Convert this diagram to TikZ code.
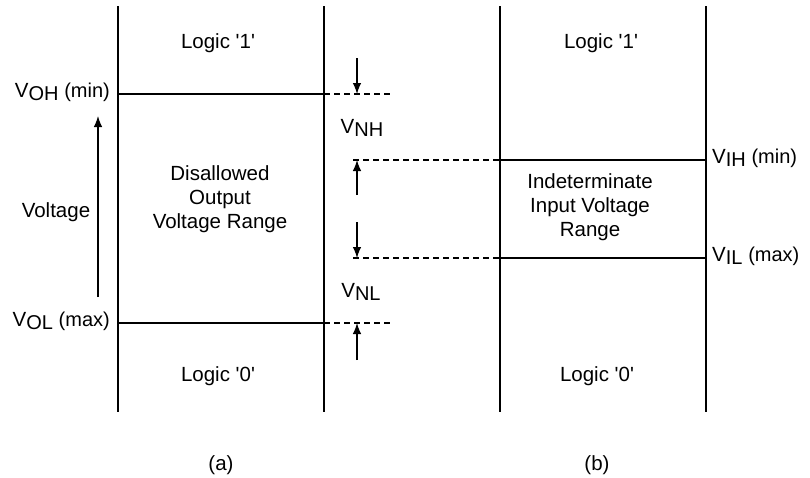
\documentclass[tikz,border=0pt]{standalone}
\usepackage{fontspec}
\setmainfont{Liberation Sans}
\usetikzlibrary{arrows.meta}

\newcommand{\subsz}{\fontsize{20}{20}\selectfont}
\newcommand{\vname}[1]{V\raisebox{-0.3ex}{\subsz #1}}
\newcommand{\vlevel}[2]{\vname{#1} {\fontsize{20}{20}\selectfont(#2)}}
\newcommand{\logic}[1]{Logic \textquotesingle#1\textquotesingle}

\tikzset{
  rail/.style={line width=1.6pt},
  level/.style={line width=1.2pt},
  margin/.style={line width=1.2pt,dash pattern=on 6pt off 4pt},
  noise/.style={line width=1.2pt,-{Latex[length=11pt,width=8.5pt]}},
  lbl/.style={font=\fontsize{20.5}{24}\selectfont,align=center,inner sep=0pt},
}

\begin{document}
\begin{tikzpicture}[x=1pt,y=-1pt]
\useasboundingbox (0,0) rectangle (810,477);
% rails of (a) and (b)
\foreach \r/\x in {aL/118,aR/324,bL/500,bR/706}{
  \coordinate (\r top) at (\x,6);
  \coordinate (\r bot) at (\x,412);
  \draw[rail] (\r top) -- (\r bot);
}
% output levels
\coordinate (ohL) at (118,94);  \coordinate (ohR) at (324,94);  \coordinate (ohE) at (393,94);
\coordinate (olL) at (118,323); \coordinate (olR) at (324,323); \coordinate (olE) at (393,323);
\draw[level] (ohL) -- (ohR);
\draw[level] (olL) -- (olR);
\draw[margin] (ohR) -- (ohE);
\draw[margin] (olR) -- (olE);
% input levels
\coordinate (ihS) at (353,160); \coordinate (ihL) at (500,160); \coordinate (ihR) at (706,160);
\coordinate (ilS) at (353,258); \coordinate (ilL) at (500,258); \coordinate (ilR) at (706,258);
\draw[level] (ihL) -- (ihR);
\draw[level] (ilL) -- (ilR);
\draw[margin] (ihS) -- (ihL);
\draw[margin] (ilS) -- (ilL);
% noise margins
\coordinate (nh1) at (357,58);  \coordinate (nh2) at (357,94);
\coordinate (nh3) at (357,195); \coordinate (nh4) at (357,160);
\coordinate (nl1) at (357,222); \coordinate (nl2) at (357,258);
\coordinate (nl3) at (357,360); \coordinate (nl4) at (357,323);
\draw[noise] (nh1) -- (nh2);
\draw[noise] (nh3) -- (nh4);
\draw[noise] (nl1) -- (nl2);
\draw[noise] (nl3) -- (nl4);
\node[lbl] (vnh) at (362,128) {\vname{NH}};
\node[lbl] (vnl) at (361,292) {\vname{NL}};
% voltage axis
\coordinate (vlo) at (98,297);
\coordinate (vhi) at (98,116);
\draw[noise] (vlo) -- (vhi);
\node[lbl] (volt) at (56,212) {Voltage};
% level labels
\node[lbl,anchor=east] (voh) at (110,92) {\vlevel{OH}{min}};
\node[lbl,anchor=east] (vol) at (110,321) {\vlevel{OL}{max}};
\node[lbl,anchor=west] (vih) at (712,158) {\vlevel{IH}{min}};
\node[lbl,anchor=west] (vil) at (712,256) {\vlevel{IL}{max}};
% regions
\node[lbl] (one a) at (218,43) {\logic{1}};
\node[lbl] (one b) at (601,43) {\logic{1}};
\node[lbl] (bad) at (220,199) {Disallowed\\Output\\Voltage Range};
\node[lbl] (ind) at (590,207) {Indeterminate\\Input Voltage\\Range};
\node[lbl] (zero a) at (218,376) {\logic{0}};
\node[lbl] (zero b) at (597,376) {\logic{0}};
% captions
\node[lbl] (cap a) at (221,465) {(a)};
\node[lbl] (cap b) at (597,465) {(b)};
\end{tikzpicture}
\end{document}
